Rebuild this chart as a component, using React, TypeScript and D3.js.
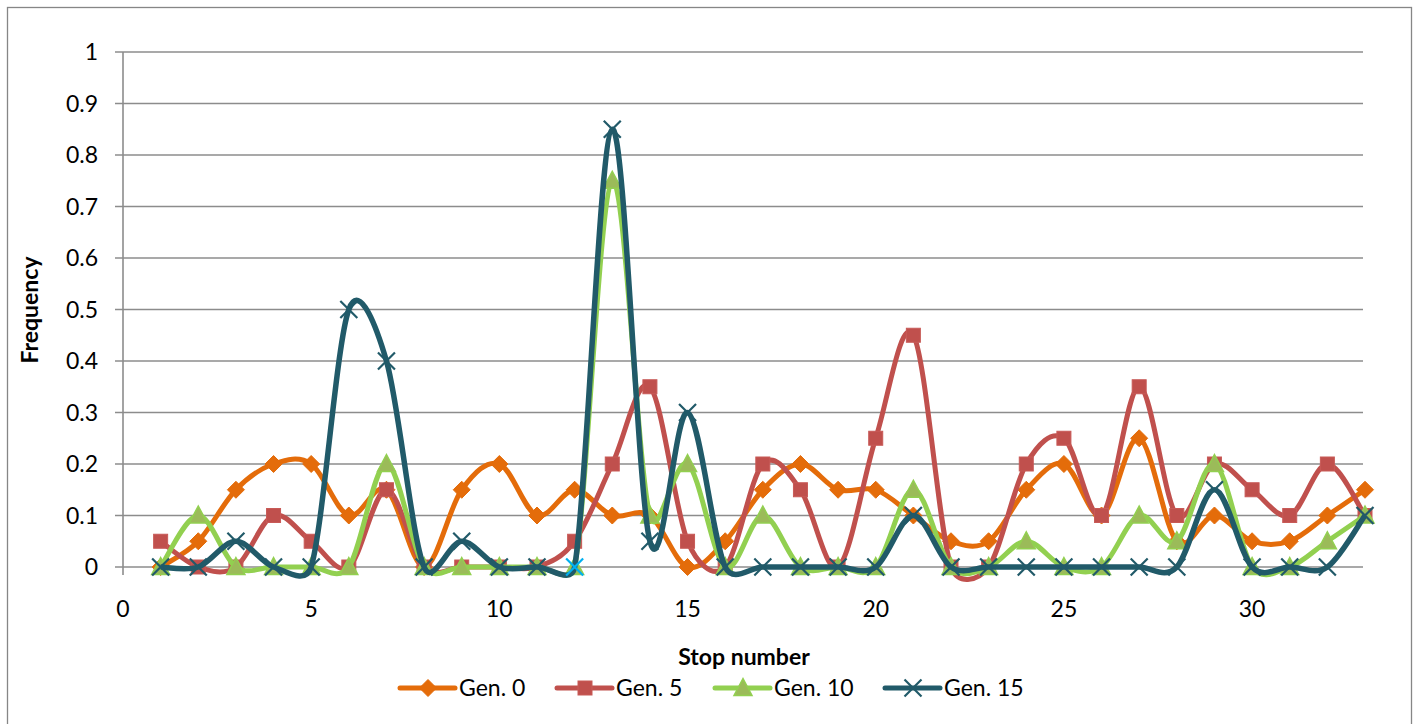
import React from "react";
import * as d3 from "d3";

const stops: number[] = Array.from({ length: 33 }, (_, i) => i + 1);
const gen0: number[] = [0, 0.05, 0.15, 0.2, 0.2, 0.1, 0.15, 0, 0.15, 0.2, 0.1, 0.15, 0.1, 0.1, 0, 0.05, 0.15, 0.2, 0.15, 0.15, 0.1, 0.05, 0.05, 0.15, 0.2, 0.1, 0.25, 0.05, 0.1, 0.05, 0.05, 0.1, 0.15];
const gen5: number[] = [0.05, 0, 0, 0.1, 0.05, 0, 0.15, 0, 0, 0, 0, 0.05, 0.2, 0.35, 0.05, 0, 0.2, 0.15, 0, 0.25, 0.45, 0, 0, 0.2, 0.25, 0.1, 0.35, 0.1, 0.2, 0.15, 0.1, 0.2, 0.1];
const gen10: number[] = [0, 0.1, 0, 0, 0, 0, 0.2, 0, 0, 0, 0, 0, 0.75, 0.1, 0.2, 0, 0.1, 0, 0, 0, 0.15, 0, 0, 0.05, 0, 0, 0.1, 0.05, 0.2, 0, 0, 0.05, 0.1];
const gen15: number[] = [0, 0, 0.05, 0, 0, 0.5, 0.4, 0, 0.05, 0, 0, 0, 0.85, 0.05, 0.3, 0, 0, 0, 0, 0, 0.1, 0, 0, 0, 0, 0, 0, 0, 0.15, 0, 0, 0, 0.1];
const seriesNames: string[] = ["Gen. 0", "Gen. 5", "Gen. 10", "Gen. 15"];
const yTicks: number[] = [0, 0.1, 0.2, 0.3, 0.4, 0.5, 0.6, 0.7, 0.8, 0.9, 1];
const xTicks: number[] = [0, 5, 10, 15, 20, 25, 30];

const W = 1415;
const H = 724;
const FONT = "Lato, 'Open Sans', sans-serif";

type Marker = "diamond" | "square" | "triangle" | "x";
const styles: { color: string; fill: string; marker: Marker }[] = [
  { color: "#E46C0A", fill: "#E46C0A", marker: "diamond" },
  { color: "#C0504D", fill: "#C0504D", marker: "square" },
  { color: "#92D050", fill: "#9BBB59", marker: "triangle" },
  { color: "#215A69", fill: "#215A69", marker: "x" },
];

// Excel-style smoothed path: Bezier arms of 1/6 neighbour span, capped at half segment length
function excelSmooth(pts: [number, number][]): string {
  const n = pts.length;
  if (n < 2) return "";
  const dist = (a: [number, number], b: [number, number]) => Math.hypot(b[0] - a[0], b[1] - a[1]);
  let d = `M${pts[0][0]},${pts[0][1]}`;
  for (let i = 0; i < n - 1; i++) {
    const p0 = pts[Math.max(0, i - 1)];
    const p1 = pts[i];
    const p2 = pts[i + 1];
    const p3 = pts[Math.min(n - 1, i + 2)];
    const d12 = dist(p1, p2);
    const d02 = dist(p0, p2);
    const d13 = dist(p1, p3);
    let f = 1 / 6;
    let g = 1 / 6;
    if (d02 > 0 && d02 / 6 > d12 / 2) f = d12 / (2 * d02);
    if (d13 > 0 && d13 / 6 > d12 / 2) g = d12 / (2 * d13);
    const c1x = p1[0] + f * (p2[0] - p0[0]);
    const c1y = p1[1] + f * (p2[1] - p0[1]);
    const c2x = p2[0] - g * (p3[0] - p1[0]);
    const c2y = p2[1] - g * (p3[1] - p1[1]);
    d += `C${c1x},${c1y},${c2x},${c2y},${p2[0]},${p2[1]}`;
  }
  return d;
}

function MarkerShape({ kind, x, y, color, fill }: { kind: Marker; x: number; y: number; color: string; fill: string }) {
  if (kind === "diamond") {
    const r = 8.5;
    return <path d={`M${x},${y - r}L${x + r},${y}L${x},${y + r}L${x - r},${y}Z`} fill={fill} stroke={color} strokeWidth={1} />;
  }
  if (kind === "square") {
    const r = 7;
    return <rect x={x - r} y={y - r} width={2 * r} height={2 * r} fill={fill} stroke="#C85A57" strokeWidth={1} />;
  }
  if (kind === "triangle") {
    const r = 9;
    return <path d={`M${x},${y - 9.5}L${x + r},${y + 7.5}L${x - r},${y + 7.5}Z`} fill={fill} stroke={color} strokeWidth={1.5} />;
  }
  const r = 8.5;
  return (
    <path d={`M${x - r},${y - r}L${x + r},${y + r}M${x - r},${y + r}L${x + r},${y - r}`} stroke={color} strokeWidth={2.2} fill="none" />
  );
}

export default function App() {
  const x = d3.scaleLinear().domain([0, 33]).range([123, 1365]);
  const y = d3.scaleLinear().domain([0, 1]).range([567, 52]);
  const data = [gen0, gen5, gen10, gen15];

  const legendX = [400, 557, 715, 885];

  return (
    <svg width={W} height={H} style={{ position: "absolute", left: 0, top: 0, background: "#fff" }} fontFamily={FONT}>
      <rect x={7.5} y={7.5} width={1404} height={730} fill="#fff" stroke="#868686" strokeWidth={1.3} />
      {yTicks.map((t) => (
        <line key={t} x1={115} x2={x(33) - 2} y1={y(t)} y2={y(t)} stroke="#8C8C8C" strokeWidth={1.6} />
      ))}
      <line x1={x(0)} x2={x(0)} y1={y(1)} y2={575} stroke="#8C8C8C" strokeWidth={1.6} />
      {yTicks.map((t) => (
        <text key={t} x={98} y={y(t)} dy="0.35em" textAnchor="end" fontSize={23} fill="#000">
          {String(t)}
        </text>
      ))}
      {xTicks.map((t) => (
        <text key={t} x={x(t)} y={609} dy="0.35em" textAnchor="middle" fontSize={23} fill="#000">
          {String(t)}
        </text>
      ))}
      <text x={744} y={657} dy="0.35em" textAnchor="middle" fontSize={23} fontWeight="bold">
        Stop number
      </text>
      <text transform="translate(30,310) rotate(-90)" dy="0.35em" textAnchor="middle" fontSize={23} fontWeight="bold">
        Frequency
      </text>
      {data.map((vals, si) => {
        const pts: [number, number][] = stops.map((s, i) => [x(s), y(vals[i])]);
        const st = styles[si];
        return (
          <g key={si}>
            <path d={excelSmooth(pts)} fill="none" stroke={st.color} strokeWidth={si === 3 ? 5.5 : 5} strokeLinejoin="round" />
            {pts.map((p, i) => {
              const cyan = si === 3 && i === 11;
              return (
                <MarkerShape key={i} kind={st.marker} x={p[0]} y={p[1]} color={cyan ? "#00B0F0" : st.color} fill={st.fill} />
              );
            })}
          </g>
        );
      })}
      {seriesNames.map((n, i) => {
        const st = styles[i];
        const lx = legendX[i];
        return (
          <g key={n}>
            <line x1={lx} x2={lx + 55} y1={688} y2={688} stroke={st.color} strokeWidth={5} strokeLinecap="round" />
            <MarkerShape kind={st.marker} x={lx + 28} y={688} color={st.color} fill={st.fill} />
            <text x={lx + 59} y={688} dy="0.35em" fontSize={23} fill="#000">
              {n}
            </text>
          </g>
        );
      })}
    </svg>
  );
}
